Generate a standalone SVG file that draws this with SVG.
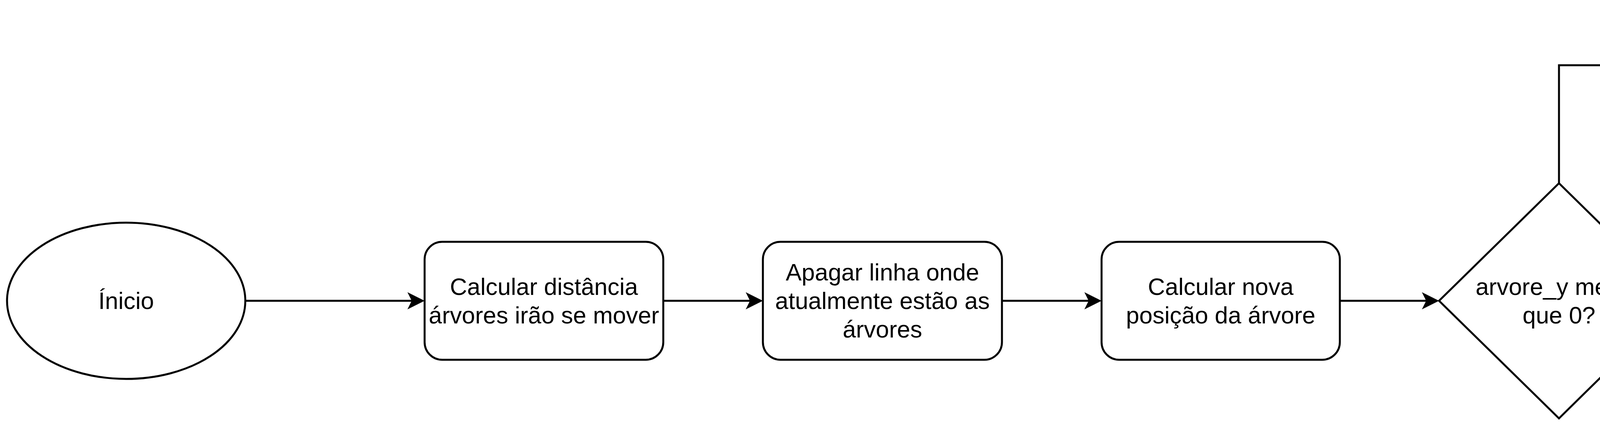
<svg xmlns="http://www.w3.org/2000/svg" width="6964" height="1111" viewBox="0 0 6964 1111">
<style>
.shape{fill:#ffffff;stroke:#000000;stroke-width:5}
.edge{fill:none;stroke:#000000;stroke-width:5}
.t{font-family:"Liberation Sans",Arial,Helvetica,sans-serif;font-size:61px;fill:#000000;text-anchor:middle}
.lbl{font-family:"Liberation Sans",Arial,Helvetica,sans-serif;font-size:56px;fill:#000000;text-anchor:middle}
.lblbg{fill:#ffffff;stroke:none}
</style>
<defs>
<marker id="arrow" markerUnits="userSpaceOnUse" viewBox="-20 -25 55 50" markerWidth="55" markerHeight="50" refX="0" refY="0" orient="auto">
<path d="M30,0 L-14,-22 L-3,0 L-14,22 Z" fill="#000000" stroke="none"/>
</marker>
</defs>
<rect width="6964" height="1111" fill="#ffffff"/>
<g id="connectors">
<path class="edge" d="M628,770 H1057" marker-end="url(#arrow)"/>
<path class="edge" d="M1698,770 H1923" marker-end="url(#arrow)"/>
<path class="edge" d="M2565,770 H2790" marker-end="url(#arrow)"/>
<path class="edge" d="M3430,770 H3654" marker-end="url(#arrow)"/>
<path class="edge" d="M3991,469 V167 H5132" marker-end="url(#arrow)"/>
<path class="edge" d="M4297,770 H5132" marker-end="url(#arrow)"/>
<path class="edge" d="M5775,167 H6641 V540" marker-end="url(#arrow)"/>
<path class="edge" d="M5775,770 H6305" marker-end="url(#arrow)"/>
<g id="label-sim">
<rect class="lblbg" x="4580" y="135" width="156" height="66"/>
<text class="lbl" x="4658" y="187">[ SIM ]</text>
</g>
<g id="label-nao">
<rect class="lblbg" x="4569" y="732" width="178" height="72"/>
<text class="lbl" x="4658" y="790">[ NÃO ]</text>
</g>
</g>
<g id="inicio">
<ellipse class="shape" cx="323" cy="770" rx="305" ry="200"/>
<text class="t" x="323" y="791">Ínicio</text>
</g>
<g id="calcular-distancia">
<rect class="shape" x="1087" y="619" width="611" height="302" rx="45" ry="45"/>
<text class="t" x="1392.5" y="755">Calcular distância</text>
<text class="t" x="1392.5" y="828">árvores irão se mover</text>
</g>
<g id="apagar-linha">
<rect class="shape" x="1953" y="619" width="612" height="302" rx="45" ry="45"/>
<text class="t" x="2259" y="718">Apagar linha onde</text>
<text class="t" x="2259" y="791">atualmente estão as</text>
<text class="t" x="2259" y="864">árvores</text>
</g>
<g id="calcular-nova-posicao">
<rect class="shape" x="2820" y="619" width="610" height="302" rx="45" ry="45"/>
<text class="t" x="3125" y="755">Calcular nova</text>
<text class="t" x="3125" y="828">posição da árvore</text>
</g>
<g id="decisao">
<polygon class="shape" points="3991,469 4297,770 3991,1071 3684,770"/>
<text class="t" x="3991" y="755">arvore_y menor</text>
<text class="t" x="3991" y="828">que 0?</text>
</g>
<g id="chamar-resetar">
<rect class="shape" x="5162" y="17" width="613" height="301" rx="45" ry="45"/>
<text class="t" x="5468.5" y="153">Chamar</text>
<text class="t" x="5468.5" y="226">resetar_arvore</text>
</g>
<g id="ligar-linha">
<rect class="shape" x="5162" y="619" width="613" height="302" rx="45" ry="45"/>
<text class="t" x="5468.5" y="755">Ligar linha que</text>
<text class="t" x="5468.5" y="828">representa as árvores</text>
</g>
<g id="fim">
<ellipse class="shape" cx="6641" cy="770" rx="306" ry="200"/>
<text class="t" x="6641" y="791">Fim</text>
</g>
</svg>
